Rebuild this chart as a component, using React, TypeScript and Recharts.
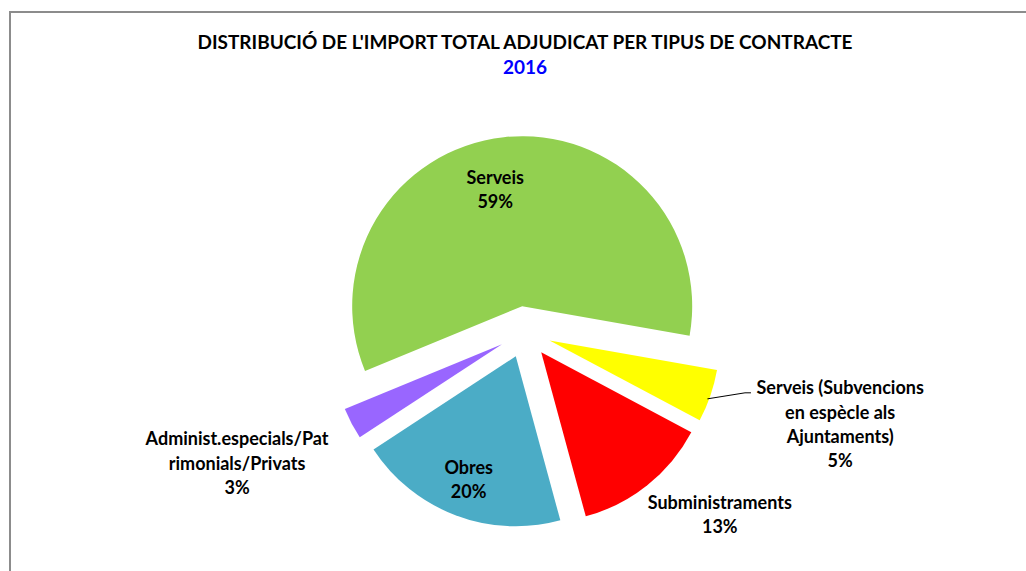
import { PieChart, Pie, Cell } from 'recharts';

// slices listed clockwise, starting just right of 3 o'clock
const categories = [
  'Serveis (Subvencions en espècle als Ajuntaments)',
  'Subministraments',
  'Obres',
  'Administ.especials/Patrimonials/Privats',
  'Serveis',
];
const labelLines = [
  ['Serveis (Subvencions', 'en espècle als', 'Ajuntaments)'],
  ['Subministraments'],
  ['Obres'],
  ['Administ.especials/Pat', 'rimonials/Privats'],
  ['Serveis'],
];
const shares = [5, 13, 20, 3, 59];

const COLORS = ['#ffff00', '#ff0000', '#4bacc6', '#9966ff', '#92d050'];
const FONT = 'Lato, "Open Sans", sans-serif';

const W = 1026;
const H = 571;
const CX = 525;
const CY = 332;
const R = 170;
const EXPLODE = 26;
const START = -10;

// label placement: radius factor + angle nudge (deg) from slice middle
const LABEL_POS = [
  { r: 1.78, nudge: 2.8 },
  { r: 1.42, nudge: 9.1 },
  { r: 0.78, nudge: 0 },
  { r: 1.71, nudge: -3.5 },
  { r: 0.7, nudge: 6.9 },
];
const LINE_H = 24.3;
const RAD = Math.PI / 180;

const data = categories.map((name, i) => ({ name, value: shares[i] }));
const total = shares.reduce((a, b) => a + b, 0);

let acc = 0;
const offsets = shares.map((v) => {
  const mid = START - ((acc + v / 2) / total) * 360;
  acc += v;
  return { dx: EXPLODE * Math.cos(mid * RAD), dy: -EXPLODE * Math.sin(mid * RAD) };
});

function polar(cx: number, cy: number, r: number, deg: number) {
  return [cx + r * Math.cos(deg * RAD), cy - r * Math.sin(deg * RAD)];
}

function renderLabel(p: any, i: number) {
  if (p.index !== i) return null;
  const cfg = LABEL_POS[i];
  const [x, y] = polar(p.cx, p.cy, p.outerRadius * cfg.r, p.midAngle + cfg.nudge);
  const lines = [...labelLines[i], `${Math.round(p.percent * 100)}%`];
  const y0 = y - ((lines.length - 1) * LINE_H) / 2 + 6;

  let leader = null;
  if (i === 0) {
    const [sx, sy] = polar(p.cx, p.cy, p.outerRadius * 0.99, p.midAngle - 1.3);
    const [ex, ey] = polar(p.cx, p.cy, p.outerRadius * 1.19, p.midAngle + 4);
    leader = (
      <polyline
        points={`${sx},${sy} ${ex},${ey} ${ex + 6},${ey}`}
        fill="none"
        stroke="#000"
        strokeWidth={1}
      />
    );
  }

  return (
    <g>
      {leader}
      <text
        x={x}
        y={y0}
        textAnchor="middle"
        fontFamily={FONT}
        fontWeight={700}
        fontSize={18}
        fill="#000"
      >
        {lines.map((l, k) => (
          <tspan key={k} x={x} y={y0 + k * LINE_H}>
            {l}
          </tspan>
        ))}
      </text>
    </g>
  );
}

export default function App() {
  return (
    <div
      style={{
        position: 'absolute',
        left: 0,
        top: 0,
        width: W,
        height: H,
        overflow: 'hidden',
        background: '#fff',
      }}
    >
      <div
        style={{
          position: 'absolute',
          left: 9,
          top: 11,
          width: W,
          height: H,
          borderLeft: '2px solid #8c8c8c',
          borderTop: '2px solid #8c8c8c',
        }}
      />
      <svg width={W} height={90} style={{ position: 'absolute', left: 0, top: 0 }}>
        <text
          x={525}
          y={49}
          textAnchor="middle"
          fontFamily={FONT}
          fontWeight={700}
          fontSize={18}
          textLength={655}
          lengthAdjust="spacingAndGlyphs"
          fill="#000"
        >
          DISTRIBUCIÓ DE L'IMPORT TOTAL ADJUDICAT PER TIPUS DE CONTRACTE
        </text>
        <text
          x={525}
          y={74}
          textAnchor="middle"
          fontFamily={FONT}
          fontWeight={700}
          fontSize={19}
          fill="#0000ff"
        >
          2016
        </text>
      </svg>
      <div style={{ position: 'absolute', left: 0, top: 0 }}>
        <PieChart width={W} height={H} margin={{ top: 0, right: 0, bottom: 0, left: 0 }}>
          {shares.map((_, i) => (
            <Pie
              key={i}
              data={data}
              dataKey="value"
              nameKey="name"
              cx={CX + offsets[i].dx}
              cy={CY + offsets[i].dy}
              outerRadius={R}
              startAngle={START}
              endAngle={START - 360}
              stroke="none"
              isAnimationActive={false}
              labelLine={false}
              label={(p: any) => renderLabel(p, i)}
            >
              {data.map((_, j) => (
                <Cell key={j} fill={j === i ? COLORS[j] : 'transparent'} stroke="none" />
              ))}
            </Pie>
          ))}
        </PieChart>
      </div>
    </div>
  );
}
